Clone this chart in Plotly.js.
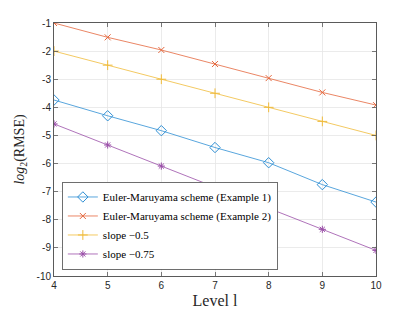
<!DOCTYPE html>
<html>
<head>
<meta charset="utf-8">
<script src="https://cdn.plot.ly/plotly-3.0.1.min.js"></script>
<style>html,body{margin:0;padding:0;background:#fff}#chart{width:415px;height:312px}</style>
</head>
<body>
<div id="chart"></div>
<script>
const levels = [4, 5, 6, 7, 8, 9, 10];
const example1 = [-3.74, -4.30, -4.83, -5.43, -5.97, -6.75, -7.37];
const example2 = [-1.00, -1.51, -1.96, -2.46, -2.96, -3.47, -3.92];
const slopeHalf = [-2.0, -2.5, -3.0, -3.5, -4.0, -4.5, -5.0];
const slopeThreeQuarter = [-4.59, -5.34, -6.09, -6.84, -7.59, -8.34, -9.09];
const xTicks = [4, 5, 6, 7, 8, 9, 10];
const yTicks = [-10, -9, -8, -7, -6, -5, -4, -3, -2, -1];
const names = ['Euler-Maruyama scheme (Example 1)', 'Euler-Maruyama scheme (Example 2)', 'slope \u22120.5', 'slope \u22120.75'];

const colors = ['#2f8fd4', '#e5673d', '#f0bb3a', '#9a4fa8'];
const series = [example1, example2, slopeHalf, slopeThreeQuarter];
const symbols = ['diamond-open', 'x-thin-open', 'cross-thin-open', 'asterisk-open'];
const sizes = [8, 6, 7, 6];

const traces = series.map((ys, i) => ({
  x: levels, y: ys, name: names[i], type: 'scatter', mode: 'lines+markers',
  line: {color: colors[i], width: 0.8},
  marker: {symbol: symbols[i], size: sizes[i], color: colors[i], line: {color: colors[i], width: 1}}
}));

const serif = '"Liberation Serif", "Times New Roman", serif';
const axisCommon = {
  showline: true, linecolor: '#5a5a5a', linewidth: 1, mirror: 'allticks',
  ticks: 'inside', ticklen: 4, tickcolor: '#5a5a5a', tickwidth: 0.8,
  showgrid: true, gridcolor: '#e6e6e6', gridwidth: 0.8, zeroline: false,
  tickfont: {family: '"Liberation Sans", Arial, sans-serif', size: 10, color: '#262626'}
};

const layout = {
  width: 415, height: 312,
  margin: {l: 54, r: 39, t: 23, b: 36},
  paper_bgcolor: '#fff', plot_bgcolor: '#fff',
  showlegend: true,
  xaxis: Object.assign({}, axisCommon, {
    range: [4, 10], tickvals: xTicks, ticktext: xTicks.map(String),
    title: {text: 'Level l', font: {family: serif, size: 16, color: '#262626'}, standoff: 4}
  }),
  yaxis: Object.assign({}, axisCommon, {
    range: [-10, -1], tickvals: yTicks, ticktext: yTicks.map(String),
    title: {text: '<i>log</i><sub>2</sub>(RMSE)', font: {family: serif, size: 14, color: '#262626'}, standoff: 8}
  }),
  legend: {
    x: 0.025, y: 0.025, xanchor: 'left', yanchor: 'bottom',
    bgcolor: '#fff', bordercolor: '#4a4a4a', borderwidth: 0.8,
    font: {family: serif, size: 11, color: '#000'},
    tracegroupgap: 0, itemwidth: 30
  }
};

Plotly.newPlot('chart', traces, layout, {displayModeBar: false, staticPlot: true});
</script>
</body>
</html>
